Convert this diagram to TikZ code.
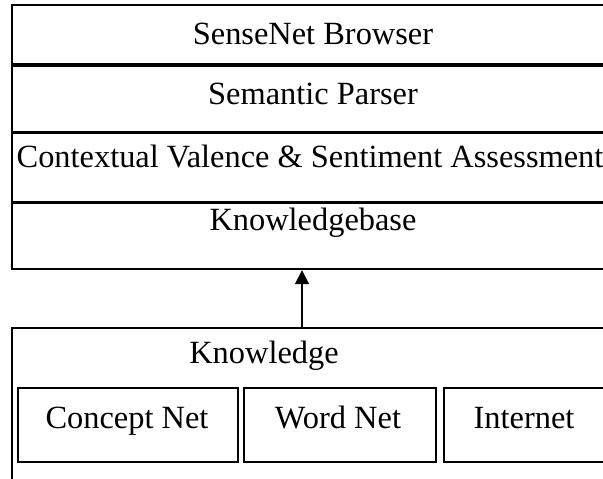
\documentclass[tikz,border=0pt]{standalone}
\usepackage{fontspec}
\setmainfont{Liberation Serif}
\usetikzlibrary{arrows.meta}
\begin{document}
\begin{tikzpicture}[x=1pt, y=-1pt, line width=1.8pt,
    layer/.style={draw, minimum width=620pt, anchor=north west, inner sep=0pt},
    srcbox/.style={draw, minimum height=74pt, anchor=north west, inner sep=0pt},
    lbl/.style={inner sep=0pt, anchor=base, font=\fontsize{32.4}{38}\selectfont}]
    \useasboundingbox (0,0) rectangle (603,479);
    \clip (0,0) rectangle (603,479);

    % Layer stack
    \node[layer, minimum height=59pt] (browser) at (11,4) {};
    \node[layer, minimum height=66pt] (parser) at (browser.south west) {};
    \node[layer, minimum height=68pt] (valence) at (parser.south west) {};
    \node[layer, minimum height=66pt] (kbase) at (valence.south west) {};

    \node[lbl] (browsertxt) at (313,45) {SenseNet Browser};
    \node[lbl] (parsertxt) at (313,104) {Semantic Parser};
    \node[lbl] (valencetxt) at (310,167) {Contextual Valence \& Sentiment Assessment};
    \node[lbl] (kbasetxt) at (313,230) {Knowledgebase};

    % Knowledge sources
    \node[draw, minimum width=620pt, minimum height=200pt, anchor=north west, inner sep=0pt] (knowledge) at (11,327) {};
    \node[lbl] (knowledgetxt) at (264,363) {Knowledge};

    \node[srcbox, minimum width=220pt] (concept) at (17,387) {};
    \node[srcbox, minimum width=192pt] (wordnet) at (243,387) {};
    \node[srcbox, minimum width=200pt] (internet) at (443,387) {};

    \node[lbl] (concepttxt) at (127,428) {Concept Net};
    \node[lbl] (wordnettxt) at (338,428) {Word Net};
    \node[lbl] (internettxt) at (524,428) {Internet};

    % Link
    \coordinate (link) at (302,327);
    \draw[-{Triangle[width=14pt,length=14pt]}] (link) -- (link |- kbase.south);
\end{tikzpicture}
\end{document}
